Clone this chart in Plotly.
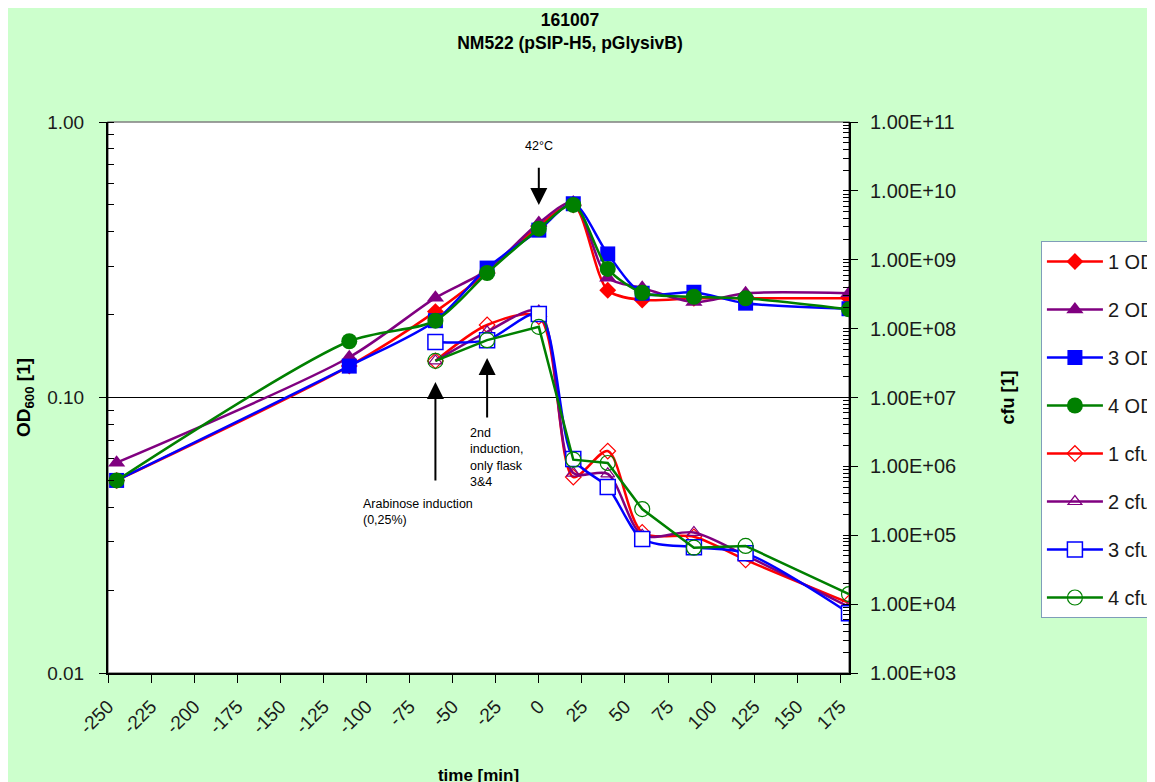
import plotly.graph_objects as go

# ---- data ----
time_od = [-245, -110, -60, -30, 0, 20, 40, 60, 90, 120, 180]
od_1 = [0.050, 0.130, 0.205, 0.285, 0.420, 0.500, 0.245, 0.226, 0.229, 0.229, 0.229]
od_2 = [0.058, 0.140, 0.230, 0.290, 0.430, 0.510, 0.272, 0.250, 0.222, 0.239, 0.239]
od_3 = [0.050, 0.130, 0.190, 0.295, 0.405, 0.505, 0.332, 0.239, 0.241, 0.220, 0.210]
od_4 = [0.050, 0.160, 0.190, 0.283, 0.410, 0.500, 0.293, 0.240, 0.232, 0.229, 0.209]

time_cfu = [-60, -30, 0, 20, 40, 60, 90, 120, 180]
cfu_1 = [3.4e7, 1.13e8, 1.5e8, 7.0e5, 1.67e6, 1.1e5, 9.5e4, 4.4e4, 1.04e4]
cfu_2 = [3.4e7, 9.0e7, 1.8e8, 8.0e5, 7.8e5, 1.0e5, 1.1e5, 5.1e4, 9.1e3]
cfu_3 = [6.4e7, 6.8e7, 1.63e8, 1.28e6, 5.0e5, 8.8e4, 6.7e4, 5.5e4, 7.4e3]
cfu_4 = [3.4e7, 6.8e7, 1.06e8, 1.25e6, 1.12e6, 2.4e5, 6.6e4, 7.0e4, 1.4e4]

x_ticks = list(range(-250, 176, 25))
x_ticktext = [str(v) for v in x_ticks]
od_ticks = [0.01, 0.1, 1.0]
od_ticktext = ["0.01", "0.10", "1.00"]
cfu_ticks = [1e3, 1e4, 1e5, 1e6, 1e7, 1e8, 1e9, 1e10, 1e11]
cfu_ticktext = ["1.00E+03", "1.00E+04", "1.00E+05", "1.00E+06", "1.00E+07",
                "1.00E+08", "1.00E+09", "1.00E+10", "1.00E+11"]

RED, PURPLE, BLUE, GREEN = "#FF0000", "#800080", "#0000FF", "#008000"
FONT = "Liberation Sans, Arial, sans-serif"
TXT = "#1a1a1a"

fig = go.Figure()

od_series = [
    ("1 OD", od_1, RED, "diamond", 13),
    ("2 OD", od_2, PURPLE, "triangle-up", 15),
    ("3 OD", od_3, BLUE, "square", 15),
    ("4 OD", od_4, GREEN, "circle", 16),
]
for i, (name, vals, col, sym, sz) in enumerate(od_series):
    fig.add_trace(go.Scatter(
        x=time_od, y=vals, name=name, mode="lines+markers",
        line=dict(color=col, width=2.5, shape="spline", smoothing=0.8),
        marker=dict(symbol=sym, size=sz, color=col, line=dict(width=0)),
        legendgroup="g%d" % i, yaxis="y"))

cfu_series = [
    ("1 cfu", cfu_1, RED, "diamond", 12, "spline"),
    ("2 cfu", cfu_2, PURPLE, "triangle-up", 12, "spline"),
    ("3 cfu", cfu_3, BLUE, "square", 15, "spline"),
    ("4 cfu", cfu_4, GREEN, "circle", 15, "linear"),
]
for i, (name, vals, col, sym, sz, shp) in enumerate(cfu_series):
    if sym == "square":
        mk = dict(symbol="square", size=sz, color="white", line=dict(color=col, width=1.5))
    else:
        mk = dict(symbol=sym + "-open", size=sz, color=col, line=dict(width=1.2))
    ln = dict(color=col, width=2.5, shape=shp)
    if shp == "spline":
        ln["smoothing"] = 0.8
    fig.add_trace(go.Scatter(
        x=time_cfu, y=vals, name=name, mode="lines+markers",
        line=ln, marker=mk, legendgroup="g%d" % (i + 4), yaxis="y2"))

# gray plot-area border (axes drawn over it)
fig.add_shape(type="rect", xref="paper", yref="paper", x0=0, x1=1, y0=0, y1=1,
              line=dict(color="#808080", width=1.5), layer="below")

ann_font = dict(family=FONT, size=12.5, color="black")
fig.add_annotation(x=0, y=-0.301, xref="x", yref="y", ax=0, ay=-0.088,
                   axref="x", ayref="y", showarrow=True, arrowhead=2,
                   arrowsize=1.7, arrowwidth=2, arrowcolor="black",
                   startstandoff=13, text="42°C", font=ann_font)
fig.add_annotation(x=-60, y=-0.944, xref="x", yref="y", ax=-60, ay=-1.307,
                   axref="x", ayref="y", showarrow=True, arrowhead=2,
                   arrowsize=1.7, arrowwidth=2, arrowcolor="black", text="")
fig.add_annotation(x=-103, y=-1.417, xref="x", yref="y", xanchor="left",
                   align="left", text="Arabinose induction<br>(0,25%)",
                   showarrow=False, font=ann_font)
fig.add_annotation(x=-30, y=-0.857, xref="x", yref="y", ax=-30, ay=-1.078,
                   axref="x", ayref="y", showarrow=True, arrowhead=2,
                   arrowsize=1.7, arrowwidth=2, arrowcolor="black", text="")
fig.add_annotation(x=-41, y=-1.217, xref="x", yref="y", xanchor="left",
                   align="left", text="2nd<br>induction,<br>only flask<br>3&4",
                   showarrow=False, font=ann_font)

fig.update_layout(
    width=1155, height=782,
    paper_bgcolor="#CCFFCC", plot_bgcolor="white",
    margin=dict(l=100, r=314, t=114, b=117, autoexpand=False),
    font=dict(family=FONT, size=18, color=TXT),
    title=dict(text="<b>161007<br>NM522 (pSIP-H5, pGlysivB)</b>",
               x=0.4866, xref="container", xanchor="center",
               y=0.977, yref="container", yanchor="top",
               font=dict(family=FONT, size=17.5, color="black")),
    xaxis=dict(range=[-250, 180], tickvals=x_ticks, ticktext=x_ticktext,
               tickangle=-45, ticks="outside", ticklen=8, tickcolor="black",
               tickfont=dict(family=FONT, size=19, color=TXT),
               showline=True, linecolor="black", linewidth=2, showgrid=False,
               zeroline=False, ticklabelstandoff=5,
               title=dict(text="<b>time [min]</b>", standoff=32,
                          font=dict(family=FONT, size=17, color="black"))),
    yaxis=dict(type="log", range=[-2, 0], tickvals=od_ticks, ticktext=od_ticktext,
               ticks="outside", ticklen=7, tickcolor="black",
               tickfont=dict(family=FONT, size=19, color=TXT),
               showline=True, linecolor="black", linewidth=2,
               showgrid=True, gridcolor="black", gridwidth=1, zeroline=False,
               ticklabelstandoff=11,
               minor=dict(ticks="inside", ticklen=6, tickcolor="black",
                          dtick="D1", showgrid=False),
               title=dict(text="<b>OD<sub>600</sub> [1]</b>", standoff=12,
                          font=dict(family=FONT, size=19, color="black"))),
    yaxis2=dict(type="log", range=[3, 11], overlaying="y", side="right",
                tickvals=cfu_ticks, ticktext=cfu_ticktext,
                ticks="outside", ticklen=7, tickcolor="black",
                tickfont=dict(family=FONT, size=20, color=TXT),
                showline=True, linecolor="black", linewidth=2,
                showgrid=False, zeroline=False, ticklabelstandoff=8,
                minor=dict(ticks="inside", ticklen=6, tickcolor="black",
                           dtick="D1", showgrid=False),
                title=dict(text="<b>cfu [1]</b>", standoff=46,
                           font=dict(family=FONT, size=18, color="black"))),
    legend=dict(x=1.259, y=0.784, xanchor="left", yanchor="top",
                bgcolor="white", bordercolor="#7F9DB9", borderwidth=1,
                font=dict(family=FONT, size=20, color=TXT),
                tracegroupgap=19, itemwidth=56, traceorder="grouped"),
    showlegend=True,
)

fig.write_html("out.html")
